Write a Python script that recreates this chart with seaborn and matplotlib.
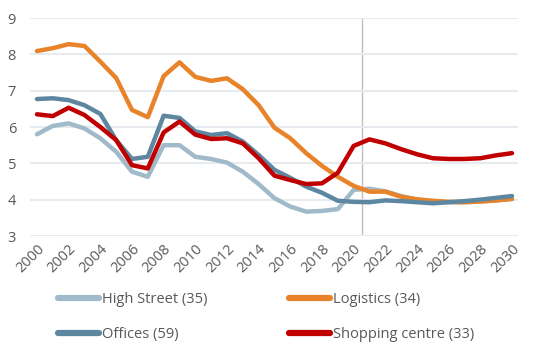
import pandas as pd
import numpy as np
import matplotlib.pyplot as plt
import seaborn as sns

sns.set_style('white')
plt.rcParams['font.family'] = ['Open Sans', 'DejaVu Sans']

years = list(range(2000, 2031))

high_street = [5.80, 6.03, 6.10, 5.96, 5.69, 5.32, 4.77, 4.63, 5.50, 5.50,
               5.18, 5.12, 5.02, 4.77, 4.43, 4.04, 3.81, 3.67, 3.69, 3.74,
               4.27, 4.30, 4.23, 4.10, 4.00, 3.95, 3.93, 3.93, 3.95, 3.98,
               4.02]
logistics = [8.09, 8.17, 8.28, 8.23, 7.80, 7.35, 6.47, 6.27, 7.40, 7.78,
             7.38, 7.27, 7.34, 7.04, 6.60, 5.98, 5.69, 5.28, 4.93, 4.63,
             4.38, 4.22, 4.22, 4.08, 4.01, 3.97, 3.94, 3.93, 3.95, 3.98,
             4.02]
offices = [6.77, 6.79, 6.74, 6.60, 6.36, 5.64, 5.12, 5.18, 6.31, 6.25,
           5.88, 5.78, 5.83, 5.60, 5.23, 4.82, 4.60, 4.36, 4.19, 3.97,
           3.94, 3.93, 3.98, 3.96, 3.93, 3.90, 3.93, 3.96, 4.00, 4.05,
           4.10]
shopping = [6.35, 6.30, 6.53, 6.33, 6.00, 5.64, 4.95, 4.86, 5.85, 6.15,
            5.79, 5.67, 5.69, 5.55, 5.14, 4.66, 4.54, 4.43, 4.45, 4.74,
            5.48, 5.66, 5.55, 5.39, 5.25, 5.14, 5.12, 5.12, 5.14, 5.22,
            5.28]

series_names = ['High Street (35)', 'Logistics (34)', 'Offices (59)', 'Shopping centre (33)']
colors = ['#a1bac9', '#e8832a', '#5d87a1', '#c00000']
forecast_start = 2020.5

df = pd.DataFrame({'Year': years * 4,
                   'Value': high_street + logistics + offices + shopping,
                   'Sector': np.repeat(series_names, len(years))})

fig = plt.figure(figsize=(5.39, 3.62), dpi=100)
ax = fig.add_axes([30 / 539, 1 - 236 / 362, 488 / 539, 218 / 362])

sns.lineplot(data=df, x='Year', y='Value', hue='Sector', palette=colors,
             linewidth=3.2, ax=ax, legend=True)

ax.axvline(forecast_start, color='#bfbfbf', linewidth=1, zorder=0.5)

ax.set_xlim(1999.56, 2030.38)
ax.set_ylim(3, 9)
ax.set_yticks(range(3, 10))
ax.set_xticks(range(2000, 2031, 2))
ax.set_xticklabels([str(y) for y in range(2000, 2031, 2)], rotation=45,
                   ha='right', rotation_mode='anchor')
ax.tick_params(axis='both', colors='#595959', labelsize=10.5, length=0, pad=4)
ax.tick_params(axis='y', pad=10)
ax.grid(axis='y', color='#e7eaee', linewidth=1.5)
ax.set_axisbelow(True)
for s in ax.spines.values():
    s.set_visible(False)
ax.set_xlabel('')
ax.set_ylabel('')

# legend fills column-first, so reorder to read row-wise like the original
handles, labels = ax.get_legend_handles_labels()
order = [0, 2, 1, 3]
handles = [handles[i] for i in order]
labels = [labels[i] for i in order]
leg = ax.legend(handles, labels, ncol=2, frameon=False,
                loc='upper left', bbox_to_anchor=(58 / 539, 1 - 292 / 362),
                bbox_transform=fig.transFigure, borderpad=0, borderaxespad=0,
                handlelength=2.8, handletextpad=0.2, columnspacing=5.6,
                labelspacing=1.35, fontsize=10.5)
for t in leg.get_texts():
    t.set_color('#595959')
for h in leg.legend_handles:
    h.set_linewidth(4.5)
    h.set_solid_capstyle('round')

plt.savefig('out.png', dpi=100)
